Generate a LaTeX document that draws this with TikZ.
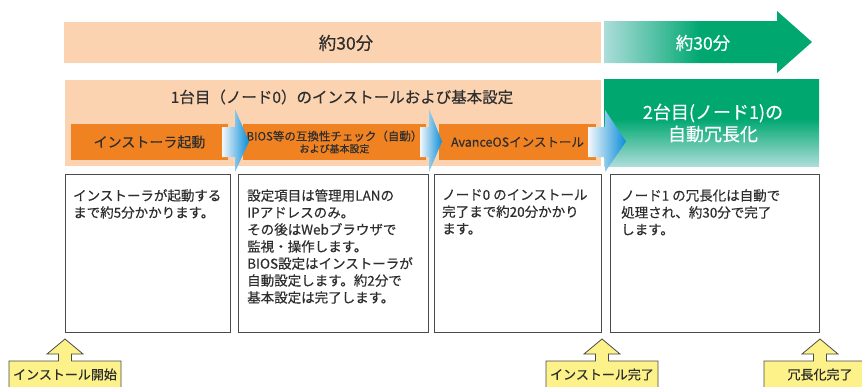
\documentclass[tikz,border=0pt]{standalone}
\usepackage{fontspec}
\setmainfont[FakeBold=0.35]{Noto Sans CJK JP}
\definecolor{pinkband}{HTML}{FBD3B0}
\definecolor{orangebox}{HTML}{F08222}
\definecolor{gLight}{HTML}{ACDDD9}
\definecolor{gMid}{HTML}{5CC4AA}
\definecolor{gDark}{HTML}{00A870}
\definecolor{bLight}{HTML}{F4F7FB}
\definecolor{bDark}{HTML}{0A8ED8}
\definecolor{yel}{HTML}{FDF289}
\definecolor{txt}{HTML}{2E2E2E}
\definecolor{edge}{HTML}{4A4A4A}
\pgfdeclarehorizontalshading{garrowshade}{100bp}{color(0bp)=(gLight); color(25bp)=(gLight); color(36bp)=(gMid); color(48bp)=(gDark); color(100bp)=(gDark)}
\pgfdeclareverticalshading{gboxshade}{100bp}{color(0bp)=(gLight); color(25bp)=(gLight); color(52bp)=(gDark); color(100bp)=(gDark)}
\tikzset{
  band/.style={fill=pinkband, draw=none, anchor=north west, inner sep=0pt},
  obox/.style={fill=orangebox, draw=none, inner sep=0pt},
  tbox/.style={draw=edge, line width=1pt, fill=white, anchor=north west, inner sep=0pt},
  bodytext/.style={anchor=north west, align=left, text=txt, inner sep=0pt, font=\fontsize{13.5}{17}\selectfont},
  barrow/.style={left color=bLight, right color=bDark, draw=none},
  callout/.style={fill=yel, draw=edge, line width=0.8pt},
  calltext/.style={text=txt, inner sep=0pt, font=\fontsize{13}{15}\selectfont},
}
\begin{document}
\begin{tikzpicture}[x=1pt,y=-1pt, every node/.style={text=txt, inner sep=0pt}]
\useasboundingbox (0,0) rectangle (862,386);
\fill[white] (0,0) rectangle (862,386);

% top time band
\node[band, minimum width=537pt, minimum height=41pt] (timeband) at (64,22) {};
\node[font=\fontsize{17.5}{20}\selectfont, text=txt] (timelabel) at (346,43) {約30分};

% green arrow
\shade[shading=garrowshade] (604,21) -- (777,21) -- (777,11) -- (812,42) -- (777,73) -- (777,63) -- (604,63) -- cycle;
\node[font=\fontsize{17.5}{20}\selectfont, text=white] (greenlabel) at (703,43) {約30分};

% second band
\node[band, minimum width=536pt, minimum height=86pt] (phase1) at (65,80) {};
\node[font=\fontsize{15.5}{18}\selectfont] (phase1title) at (342,97) {1台目（ノード0）のインストールおよび基本設定};

% green box
\shade[shading=gboxshade] (604,79) rectangle (819,166);
\node[font=\fontsize{18}{22}\selectfont, text=white, align=center] (phase2) at (713,123) {2台目(ノード1)の\\自動冗長化};

% orange steps
\node[obox, minimum width=157pt, minimum height=36pt] (s1) at (149.5,142) {\fontsize{14}{16}\selectfont インストーラ起動};
\node[obox, minimum width=183pt, minimum height=36pt, align=center] (s2) at (334.5,142) {\fontsize{11.5}{16.5}\selectfont BIOS等の互換性チェック（自動）\\および基本設定};
\node[obox, minimum width=157pt, minimum height=36pt] (s3) at (517.5,142) {\fontsize{12.5}{15}\selectfont AvanceOSインストール};

% blue arrows
\shade[barrow] (222,127) -- (235,127) -- (235,109) -- (249,141.5) -- (235,172) -- (235,157) -- (222,157) -- cycle;
\shade[barrow] (420,127) -- (429,127) -- (429,109) -- (442,141.5) -- (429,172) -- (429,157) -- (420,157) -- cycle;
\shade[barrow] (588,127) -- (605,127) -- (605,110) -- (626,141.5) -- (605,172) -- (605,157) -- (588,157) -- cycle;

% description boxes
\node[tbox, minimum width=165pt, minimum height=158pt] (d1) at (65,174) {};
\node[tbox, minimum width=190pt, minimum height=158pt] (d2) at (238,174) {};
\node[tbox, minimum width=167pt, minimum height=158pt] (d3) at (434,174) {};
\node[tbox, minimum width=209pt, minimum height=158pt] (d4) at (610,174) {};

\node[bodytext] (t1) at (73,189) {インストーラが起動する\\まで約5分かかります。};
\node[bodytext] (t2) at (247,189) {設定項目は管理用LANの\\IPアドレスのみ。\\その後はWebブラウザで\\監視・操作します。\\BIOS設定はインストーラが\\自動設定します。約2分で\\基本設定は完了します。};
\node[bodytext] (t3) at (442,189) {ノード0 のインストール\\完了まで約20分かかり\\ます。};
\node[bodytext] (t4) at (621,189) {ノード1 の冗長化は自動で\\処理され、約30分で完了\\します。};

% callouts
\foreach \anc/\nm/\lbl in {d1.south west/c1/インストール開始, d3.south east/c2/インストール完了, d4.south east/c3/冗長化完了}{
  \begin{scope}[shift={(\anc)}]
    \filldraw[callout] (-56,60) -- (-56,28) -- (-6.5,28) -- (-6.5,21) -- (-18,21) -- (0,6) -- (18,21) -- (6.5,21) -- (6.5,28) -- (56,28) -- (56,60) -- cycle;
    \node[calltext] (\nm) at (0,41.5) {\lbl};
  \end{scope}
}
\end{tikzpicture}
\end{document}
